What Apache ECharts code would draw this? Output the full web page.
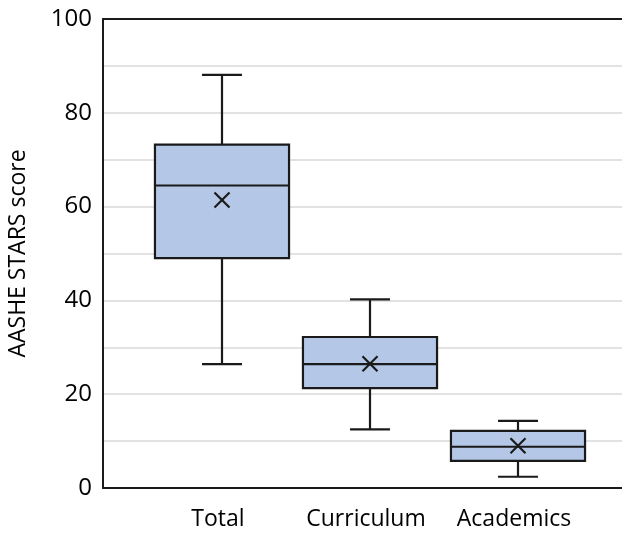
<!DOCTYPE html>
<html>
<head>
<meta charset="utf-8">
<script src="https://cdn.jsdelivr.net/npm/echarts@6/dist/echarts.min.js"></script>
<style>
html,body{margin:0;padding:0;background:#fff;}
#chart{width:622px;height:537px;}
</style>
</head>
<body>
<div id="chart"></div>
<script>
// Data
var categories = ['Total', 'Curriculum', 'Academics'];
var whiskerMin = [26.4, 12.5, 2.4];
var quartile1 = [49.0, 21.3, 5.8];
var medians = [64.5, 26.4, 8.8];
var quartile3 = [73.2, 32.2, 12.2];
var whiskerMax = [88.1, 40.2, 14.3];
var means = [61.4, 26.5, 9.0];
var yTicks = [0, 20, 40, 60, 80, 100];

var FONT = 'Open Sans';
var LINE = '#1a1a1a';
var FILL = '#b4c7e7';

var boxData = categories.map(function (c, i) {
  return [i, whiskerMin[i], quartile1[i], medians[i], quartile3[i], whiskerMax[i], means[i]];
});

function renderBox(params, api) {
  var idx = api.value(0);
  var band = api.size([1, 0])[0];
  var halfBox = band * 0.453;
  var halfCap = band * 0.135;
  var pMin = api.coord([idx, api.value(1)]);
  var pQ1 = api.coord([idx, api.value(2)]);
  var pMed = api.coord([idx, api.value(3)]);
  var pQ3 = api.coord([idx, api.value(4)]);
  var pMax = api.coord([idx, api.value(5)]);
  var pMean = api.coord([idx, api.value(6)]);
  var cx = pMed[0];
  var ls = { stroke: LINE, lineWidth: 2.2, fill: null };
  var m = 7.5;
  return {
    type: 'group',
    children: [
      { type: 'line', shape: { x1: cx, y1: pMax[1], x2: cx, y2: pQ3[1] }, style: ls },
      { type: 'line', shape: { x1: cx, y1: pQ1[1], x2: cx, y2: pMin[1] }, style: ls },
      { type: 'line', shape: { x1: cx - halfCap, y1: pMax[1], x2: cx + halfCap, y2: pMax[1] }, style: ls },
      { type: 'line', shape: { x1: cx - halfCap, y1: pMin[1], x2: cx + halfCap, y2: pMin[1] }, style: ls },
      { type: 'rect', shape: { x: cx - halfBox, y: pQ3[1], width: halfBox * 2, height: pQ1[1] - pQ3[1] },
        style: { fill: FILL, stroke: LINE, lineWidth: 2.2 } },
      { type: 'line', shape: { x1: cx - halfBox, y1: pMed[1], x2: cx + halfBox, y2: pMed[1] }, style: ls },
      { type: 'line', shape: { x1: cx - m, y1: pMean[1] - m, x2: cx + m, y2: pMean[1] + m }, style: ls },
      { type: 'line', shape: { x1: cx - m, y1: pMean[1] + m, x2: cx + m, y2: pMean[1] - m }, style: ls }
    ]
  };
}

var chart = echarts.init(document.getElementById('chart'), null, { renderer: 'canvas' });
chart.setOption({
  backgroundColor: '#fff',
  animation: false,
  grid: [
    { left: 103, right: 0, top: 19, bottom: 49, containLabel: false, outerBoundsMode: 'none' },
    { left: 148, right: 30, top: 19, bottom: 49, containLabel: false, outerBoundsMode: 'none' }
  ],
  xAxis: [
    { gridIndex: 0, type: 'value', min: 0, max: 1, position: 'bottom',
      axisLine: { show: true, lineStyle: { color: LINE, width: 2 } },
      axisTick: { show: false }, axisLabel: { show: false }, splitLine: { show: false } },
    { gridIndex: 0, type: 'value', min: 0, max: 1, position: 'top',
      axisLine: { show: true, lineStyle: { color: LINE, width: 2 } },
      axisTick: { show: false }, axisLabel: { show: false }, splitLine: { show: false } },
    { gridIndex: 1, type: 'category', data: categories, boundaryGap: true,
      axisLine: { show: false }, axisTick: { show: false }, splitLine: { show: false },
      axisLabel: { interval: 0, hideOverlap: false, margin: 20, fontFamily: FONT, fontSize: 23, color: '#000', padding: [0, 8, 0, 0] } }
  ],
  yAxis: [
    { gridIndex: 0, type: 'value', min: 0, max: 100, interval: 10,
      name: 'AASHE STARS score', nameLocation: 'middle', nameRotate: 90, nameGap: 73,
      nameTextStyle: { fontFamily: FONT, fontSize: 23, color: '#000' },
      axisLine: { show: true, lineStyle: { color: LINE, width: 2 } },
      axisTick: { show: false },
      axisLabel: { margin: 11, fontFamily: FONT, fontSize: 24, color: '#000',
        formatter: function (v) { return yTicks.indexOf(v) >= 0 ? String(v) : ''; } },
      splitLine: { show: true, lineStyle: { color: '#d9d9d9', width: 1.5 } } },
    { gridIndex: 1, type: 'value', min: 0, max: 100,
      axisLine: { show: false }, axisTick: { show: false }, axisLabel: { show: false }, splitLine: { show: false } }
  ],
  series: [
    { type: 'custom', xAxisIndex: 2, yAxisIndex: 1, data: boxData, renderItem: renderBox,
      encode: { x: 0, y: [1, 2, 3, 4, 5, 6] } }
  ]
});
</script>
</body>
</html>
